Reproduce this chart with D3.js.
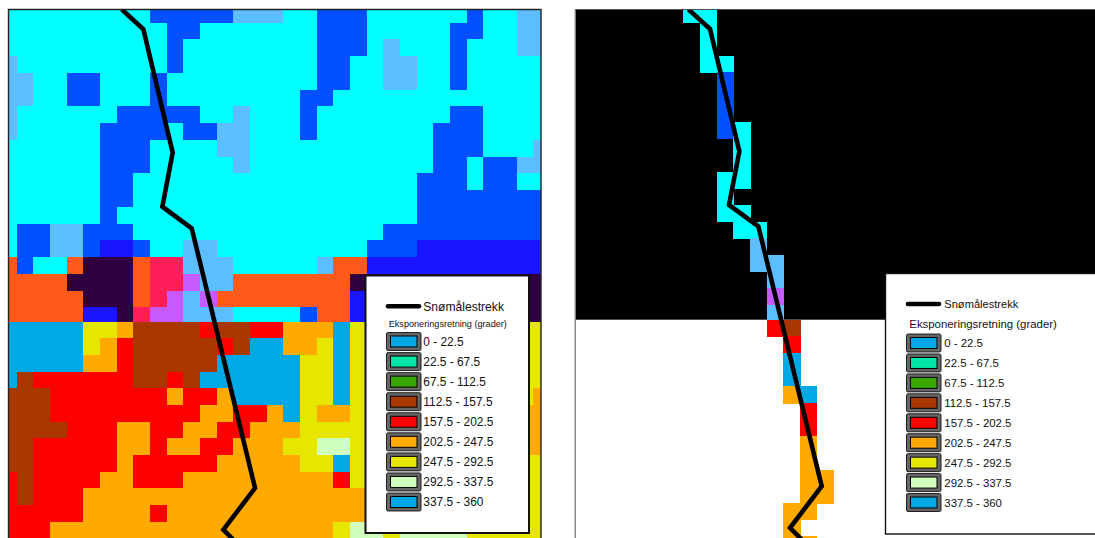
<!DOCTYPE html>
<html>
<head>
<meta charset="utf-8">
<script src="https://cdn.jsdelivr.net/npm/d3@7"></script>
<style>
	html, body { margin: 0; background: #fff; overflow: hidden; }
	svg { display: block; }
	text { font-family: "Liberation Sans", Arial, sans-serif; fill: #111; }
	.cell { shape-rendering: crispEdges; }
</style>
</head>
<body>
<div class="maps"></div>
<script>

// aspect class of each raster cell, one string per row
const rows = [
	"cccccccccbbbbblllccbbbccccccbccll",
	"ccccccccccbbcccccccbbbcccccbbccll",
	"ccccccccccbccccccccbbbclcccbcccll",
	"lcccccccccbccccccccbbccllccbccccc",
	"llccbbcccbcccccccccbbccllccbccccc",
	"llccbbcccbccccccccbbccccccccccccc",
	"lccccccbbbbbcclcccbccccccccbbcccc",
	"lcccccbbbbcbbllcccbcccccccbbbcccc",
	"ccccccbbbccccllcccccccccccbbbcccl",
	"ccccccbbbccccclcccccccccccbbcbbll",
	"ccccccbbcccccccccccccccccbbbcbbcc",
	"ccccccbbcccccccccccccccccbbbbbbbb",
	"ccccccbccccccccccccccccccbbbbbbbb",
	"cbbllbbbcccccccccccccccbbbbbbbbbb",
	"cbbllbddbccllcccccccccbbbdddddddd",
	"obccokkkommlllccccclooddddddddddd",
	"ooookkkkommplloooooookkkkkkkkkkkk",
	"oooookkkomplpooooooooddddddddd" + "kkk",
	"oooooddkmpplllccccboodddddddddkkk",
	"AAAAAYYOBBBBRBBRROOOAYYYYYYYYYYYY",
	"AAAAAYORBBBBBRBAAOOYAYYYYYYYYYYYY",
	"AAAAAOORBBBBBAAAAAYYAYYYYYYYYYYYY",
	"ABRRRRRRBBRBAAAAAAYYAYYYYYYYYYYYY",
	"BBBRRRRRRRORROAAAAYYAYYYYYYYYYYYO",
	"BBBRRRRRRRRROORROAYOOYYYYYYYYYYOO",
	"BBBBRRROORROORROOOYYYYYYYYYYYYYOO",
	"BBRRRRROOROORROOOYYGGYYYYYYYYYYOO",
	"BBRRRRRORRRRROOOOOYYAYYYYYYYYYYYY",
	"RBRRRROORRROOOOOOOOORYYYYYYYYYYYY",
	"RBRRROOOOOOOOOOOOOOOOOYYYYYYYYYYY",
	"RRRRROOOOROOOOOOOOOOOOYYYYYYYYYYY",
	"RRROOOOOOOOOOOOOOOOOYGGYGGGGYYYYY",
	"OOOOOOOOOOOOOOOOOOOOOOOOOOOOOOOOO"
];

// first and last column kept in the right map, per row
const corridorFirst = [7, 8, 8, 8, 9, 9, 9, 9, 10, 10, 9, 9, 9, 10, 11, 11, 12, 12, 12, 12, 13, 13, 13, 13, 14, 14, 14, 14, 14, 14, 13, 13, 13];
const corridorLast = [8, 8, 8, 9, 9, 9, 9, 10, 10, 10, 10, 9, 10, 11, 11, 12, 12, 12, 12, 13, 13, 13, 13, 14, 14, 14, 14, 14, 15, 15, 14, 13, 14];

// snow course in grid units
const trackCol = [7.3, 8.6, 10.36, 9.74, 11.5, 15.3, 13.4, 14.5];
const trackRow = [0.2, 1.39, 8.76, 11.99, 13.28, 28.99, 31.49, 32.6];

const classCodes = ["c", "b", "l", "d", "o", "k", "m", "p", "A", "Y", "O", "R", "B", "G"];
const classColors = ["#00ffff", "#0050ff", "#5cbeff", "#1a14ff", "#ff5a1a", "#2e003f", "#ff1e5a", "#c55aff", "#00a8e6", "#e6e600", "#ffaa00", "#ff0000", "#a83800", "#d1ffbe"];

const legendLabels = ["0 - 22.5", "22.5 - 67.5", "67.5 - 112.5", "112.5 - 157.5", "157.5 - 202.5", "202.5 - 247.5", "247.5 - 292.5", "292.5 - 337.5", "337.5 - 360"];
const legendColors = ["#00a8e6", "#00e6a9", "#38a800", "#a83800", "#ff0000", "#ffaa00", "#e6e600", "#d1ffbe", "#00a8e6"];

const width = 1095;
const height = 538;
const cell = 16.67;

const color = d3.scaleOrdinal().domain(classCodes).range(classColors);

const container = d3.select(".maps")
	.append("svg")
		.attr("width", width)
		.attr("height", height);

// flatten the raster
const cells = [];
rows.forEach((r, i) => {
	r.split("").forEach((code, j) => {
		cells.push({ row: i, col: j, code: code });
	});
});

function drawMap(opts) {
	const scaleCol = d3.scaleLinear().domain([0, 1]).range([opts.offset, opts.offset + cell]);
	const scaleRow = d3.scaleLinear().domain([0, 18, 19, 33]).range(opts.rowRange);

	const clipId = "clip-" + opts.name;
	container.append("clipPath")
			.attr("id", clipId)
		.append("rect")
			.attr("x", opts.left)
			.attr("y", 10)
			.attr("width", opts.right - opts.left)
			.attr("height", height - 10);

	const map = container.append("g")
		.attr("clip-path", `url(#${clipId})`);

	if (opts.masked) {
		map.append("rect")
			.attr("x", opts.left)
			.attr("y", 10)
			.attr("width", opts.right - opts.left)
			.attr("height", scaleRow(19) - 10)
			.attr("fill", "#000");
	}

	const shown = opts.masked
		? cells.filter((d) => d.col >= corridorFirst[d.row] && d.col <= corridorLast[d.row])
		: cells.filter((d) => d.row < 32);

	map.selectAll(".cell")
			.data(shown).enter()
		.append("rect")
			.attr("class", "cell")
			.attr("x", (d) => scaleCol(d.col))
			.attr("y", (d) => scaleRow(d.row))
			.attr("width", cell + 0.5)
			.attr("height", (d) => scaleRow(d.row + 1) - scaleRow(d.row) + 0.5)
			.attr("fill", (d) => color(d.code));

	const track = d3.line()
		.x((d) => scaleCol(d))
		.y((d, i) => scaleRow(trackRow[i]));

	map.append("path")
		.attr("d", track(trackCol))
		.attr("fill", "none")
		.attr("stroke", "#000")
		.attr("stroke-width", 4.6)
		.attr("stroke-linejoin", "miter");

	// frame
	container.append("path")
		.attr("d", `M${opts.left - 0.5},${height} V9.5 H${opts.frameRight}${opts.masked ? "" : ` V${height}`}`)
		.attr("fill", "none")
		.attr("stroke", opts.masked ? "#555" : "#222")
		.attr("stroke-width", opts.masked ? 1 : 1.4);

	// legend
	const lg = opts.legend;
	const legend = container.append("g");

	legend.append("rect")
		.attr("x", lg.x)
		.attr("y", lg.y)
		.attr("width", lg.w)
		.attr("height", lg.h)
		.attr("fill", "#fff")
		.attr("stroke", "#111")
		.attr("stroke-width", lg.border);

	legend.append("line")
		.attr("x1", lg.keyX + 1.5)
		.attr("x2", lg.keyX + 32.5)
		.attr("y1", lg.lineY)
		.attr("y2", lg.lineY)
		.attr("stroke", "#000")
		.attr("stroke-width", 4.6)
		.attr("stroke-linecap", "round");

	legend.append("text")
		.attr("x", lg.textX)
		.attr("y", lg.lineY + 4.2)
		.attr("font-size", lg.nameSize)
		.text("Snømålestrekk");

	legend.append("text")
		.attr("x", lg.titleX)
		.attr("y", lg.titleY)
		.attr("font-size", lg.titleSize)
		.text("Eksponeringsretning (grader)");

	const scaleKey = d3.scalePoint().domain(legendLabels).range([lg.firstKey, lg.lastKey]);

	const keys = legend.selectAll(".key")
			.data(legendLabels).enter()
		.append("g")
			.attr("class", "key")
			.attr("transform", (d) => `translate(${lg.keyX},${scaleKey(d)})`);

	keys.append("rect")
		.attr("x", 0)
		.attr("y", -9)
		.attr("width", 34.5)
		.attr("height", 18)
		.attr("rx", 1.5)
		.attr("fill", "#666")
		.attr("stroke", "#111")
		.attr("stroke-width", 0.9);

	keys.append("rect")
		.attr("x", 4)
		.attr("y", -5.5)
		.attr("width", 26.5)
		.attr("height", 11)
		.attr("fill", (d, i) => legendColors[i])
		.attr("stroke", "#000")
		.attr("stroke-width", 1);

	keys.append("text")
		.attr("x", lg.textX - lg.keyX)
		.attr("y", 4)
		.attr("font-size", lg.labelSize)
		.text((d) => d);
}

drawMap({
	name: "left",
	offset: 0,
	left: 9,
	right: 541,
	frameRight: 541,
	rowRange: [6, 307.3, 321.5, 554.9],
	masked: false,
	legend: {
		x: 365.5, y: 275.5, w: 163.5, h: 257.5, border: 2,
		keyX: 386.5, lineY: 306.3, textX: 423.3,
		nameSize: 12.1, titleX: 388.7, titleY: 326.7, titleSize: 9.15,
		firstKey: 341.5, lastKey: 502, labelSize: 11.9
	}
});

drawMap({
	name: "right",
	offset: 566.67,
	left: 575.7,
	right: 1095,
	frameRight: 1095,
	rowRange: [6, 304.7, 319.7, 553],
	masked: true,
	legend: {
		x: 885.5, y: 273.5, w: 215, h: 260.5, border: 1.4,
		keyX: 906.5, lineY: 304, textX: 944.3,
		nameSize: 11.1, titleX: 909.3, titleY: 328, titleSize: 11.4,
		firstKey: 343, lastKey: 502.5, labelSize: 11.4
	}
});

</script>
</body>
</html>
